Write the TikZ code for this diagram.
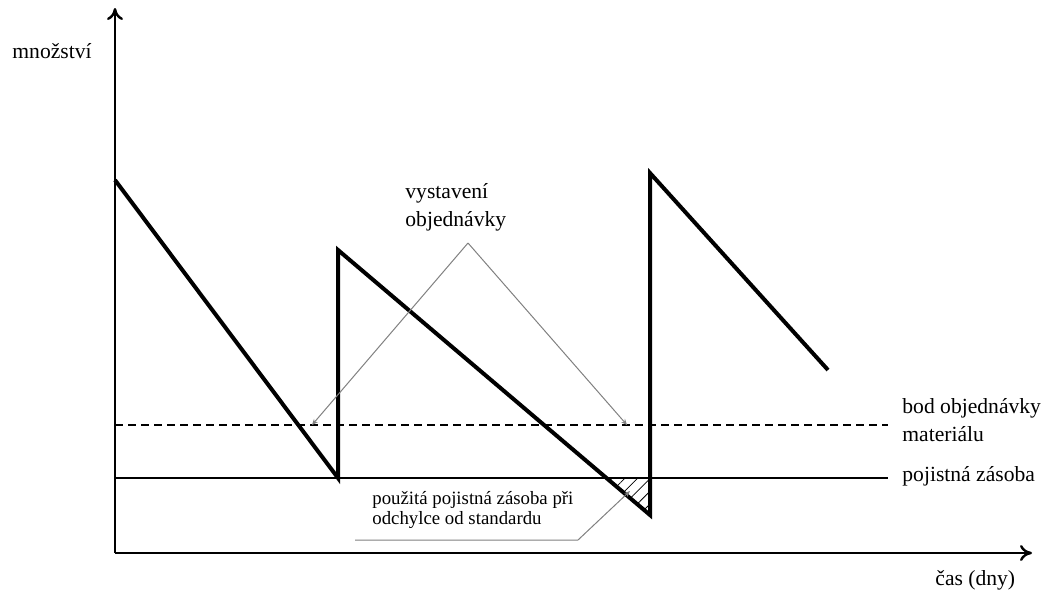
\documentclass[tikz,border=0pt]{standalone}
\usepackage{fontspec}
\setmainfont{Liberation Serif}
\usetikzlibrary{arrows.meta,patterns.meta}

\tikzset{
  axis/.style={line width=1pt,-{To[length=6pt,width=8pt,line width=1.2pt]}},
  stock/.style={line width=2pt,line join=miter},
  level/.style={line width=0.7pt},
  leader/.style={gray,line width=0.5pt},
  lbl/.style={inner sep=0pt,anchor=base west,font=\fontsize{10.8}{14}\selectfont,align=left},
}

\begin{document}
\begin{tikzpicture}[x=0.5pt,y=-0.5pt]
      \useasboundingbox (0,0) rectangle (1044,594);

      % axes
      \coordinate (o) at (115,553);
      \coordinate (ytop) at (115,8);
      \coordinate (xend) at (1032,553);
      \draw[axis] (o) -- (ytop);
      \draw[axis] (o) -- (xend);
      \node[lbl] (qty) at (12,58) {množství};
      \node[lbl] (time) at (935,585) {čas (dny)};

      % reorder point and safety stock
      \coordinate (r1) at (115,425);
      \coordinate (r2) at (888,425);
      \coordinate (s1) at (115,478);
      \coordinate (s2) at (888,478);
      \draw[level,dashed,dash pattern=on 4pt off 2.5pt] (r1) -- (r2);
      \draw[level] (s1) -- (s2);
      \node[lbl] (reorder) at (902,441) {bod objednávky\\materiálu};
      \node[lbl] (safety) at (902,481) {pojistná zásoba};

      % hatched area
      \fill[pattern={Lines[angle=45,distance=4.5pt,line width=0.4pt]}]
        (606.4,478) -- (650,478) -- (650,515) -- cycle;

      % stock level
      \coordinate (p0) at (115,180);
      \coordinate (p1) at (338,478);
      \coordinate (p2) at (338,250);
      \coordinate (p3) at (650,515);
      \coordinate (p4) at (650,173);
      \coordinate (p5) at (828,370);
      \draw[stock] (p0) -- (p1) -- (p2) -- (p3) -- (p4) -- (p5);

      % order labels
      \node[lbl] (order) at (405,226) {vystavení\\objednávky};
      \coordinate (apex) at (468,243);
      \coordinate (o1) at (312,425);
      \coordinate (o2) at (627,425);
      \draw[leader,-{Stealth[length=3pt,width=2.5pt]}] (apex) -- (o1);
      \draw[leader,-{Stealth[length=3pt,width=2.5pt]}] (apex) -- (o2);

      \node[lbl,font=\fontsize{9.4}{10}\selectfont] (used) at (372,524)
        {použitá pojistná zásoba při\\odchylce od standardu};
      \coordinate (u1) at (355,540);
      \coordinate (u2) at (578,540);
      \coordinate (u3) at (630,491);
      \draw[leader,-{Stealth[length=3pt,width=2.5pt]}] (u1) -- (u2) -- (u3);
    \end{tikzpicture}
\end{document}
